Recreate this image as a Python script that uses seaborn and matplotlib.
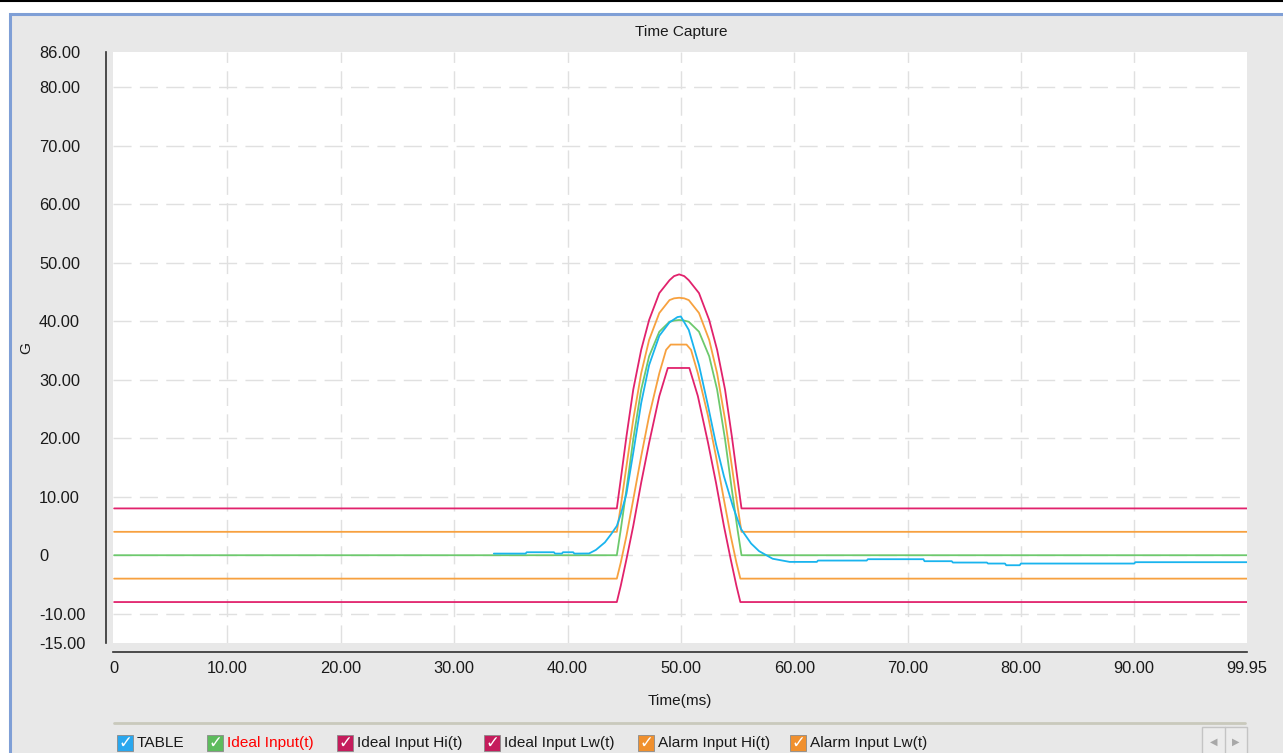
import matplotlib
import matplotlib.pyplot as plt
import matplotlib.patches as mpatches
import matplotlib.lines as mlines
import seaborn as sns

matplotlib.use("Agg")
sns.set_theme(style="white")
plt.rcParams["font.family"] = ["Liberation Sans", "DejaVu Sans"]

# ---- data read off the capture ----
# ideal pulse and the hi envelopes share one time base
pulse_t = [0, 44.35, 44.7, 45.2, 45.8, 46.5, 47.2, 48.1, 49.0, 49.4, 49.85, 50.3, 50.7, 51.6, 52.5, 53.2, 53.9, 54.5, 55.0, 55.35, 99.95]
ideal_input = [0, 0, 4.4, 11.2, 19.8, 28.3, 34.0, 38.2, 39.9, 40.1, 40.2, 40.1, 39.9, 38.2, 34.0, 28.3, 19.8, 11.2, 4.4, 0, 0]
ideal_hi = [8, 8, 13.0, 20.3, 28.3, 35.1, 40.2, 44.8, 47.0, 47.7, 48.0, 47.7, 47.0, 44.8, 40.2, 35.1, 28.3, 20.3, 13.0, 8, 8]
alarm_hi = [4, 4, 8.4, 15.2, 23.2, 31.1, 36.8, 41.4, 43.6, 43.9, 44.0, 43.9, 43.6, 41.4, 36.8, 31.1, 23.2, 15.2, 8.4, 4, 4]

ideal_lw_t = [0, 44.35, 44.7, 45.2, 45.8, 46.5, 47.2, 48.1, 48.85, 50.75, 51.5, 52.4, 53.1, 53.8, 54.4, 54.9, 55.25, 99.95]
ideal_lw = [-8, -8, -5.2, -0.7, 5.0, 12.4, 19.2, 27.2, 32, 32, 27.2, 19.2, 12.4, 5.0, -0.7, -5.2, -8, -8]

alarm_lw_t = [0, 44.35, 44.7, 45.2, 45.8, 46.5, 47.2, 48.1, 48.7, 49.1, 50.5, 50.9, 51.5, 52.4, 53.1, 53.8, 54.4, 54.9, 55.25, 99.95]
alarm_lw = [-4, -4, -1.25, 3.3, 9.5, 16.9, 23.8, 31.1, 35.1, 36, 36, 35.1, 31.1, 23.8, 16.9, 9.5, 3.3, -1.25, -4, -4]

table_t = [33.5, 36.3, 36.4, 38.8, 38.9, 39.5, 39.6, 40.5, 40.6, 41.9, 42.5, 43.3, 43.85, 44.35,
           44.7, 45.2, 45.8, 46.5, 47.2, 48.1, 49.0, 49.7, 50.0, 50.7, 51.6, 52.4, 53.1, 53.8,
           54.6, 55.3, 56.2, 56.9, 58.1, 59.6, 62.0, 62.1, 66.4, 66.5, 71.4, 71.5, 73.9, 74.0,
           77.0, 77.1, 78.6, 78.7, 79.9, 80.0, 90.0, 90.1, 99.95]
table_v = [0.28, 0.28, 0.51, 0.51, 0.28, 0.28, 0.51, 0.51, 0.28, 0.3, 0.9, 2.2, 3.6, 5.0,
           7.0, 10.5, 17.5, 26.0, 32.5, 37.5, 39.8, 40.7, 40.8, 38.5, 32.5, 25.5, 19.0, 13.5,
           8.3, 4.5, 2.0, 0.7, -0.6, -1.14, -1.14, -0.91, -0.91, -0.68, -0.68, -1.02, -1.02, -1.25,
           -1.25, -1.42, -1.42, -1.71, -1.71, -1.42, -1.42, -1.19, -1.19]

x_ticks = [0, 10, 20, 30, 40, 50, 60, 70, 80, 90, 99.95]
x_tick_labels = ["0", "10.00", "20.00", "30.00", "40.00", "50.00", "60.00", "70.00", "80.00", "90.00", "99.95"]
y_ticks = [-15, -10, 0, 10, 20, 30, 40, 50, 60, 70, 80, 86]
y_tick_labels = ["-15.00", "-10.00", "0", "10.00", "20.00", "30.00", "40.00", "50.00", "60.00", "70.00", "80.00", "86.00"]

legend_names = ["TABLE", "Ideal Input(t)", "Ideal Input Hi(t)", "Ideal Input Lw(t)", "Alarm Input Hi(t)", "Alarm Input Lw(t)"]

CYAN, GREEN, CRIMSON, ORANGE = "#19b4ee", "#6dc96d", "#e1226c", "#f7a13f"
BOX_COLORS = ["#2aa7ee", "#5dbb5d", "#c51c5c", "#c51c5c", "#f0902e", "#f0902e"]
TEXT_COLORS = ["#1a1a1a", "#ff0000", "#1a1a1a", "#1a1a1a", "#1a1a1a", "#1a1a1a"]
FS = 11.1
TICK_FS = 11.8

W, H = 1283, 753


def fx(x):
    return x / W


def fy(y):
    return 1 - y / H


fig = plt.figure(figsize=(W / 100, H / 100), dpi=100, facecolor="white")

# window frame
fig.patches.append(mpatches.Rectangle((fx(9.5), fy(H + 20)), 1.2, fy(13.5) - fy(H + 20), transform=fig.transFigure,
                                      facecolor="#e8e8e8", edgecolor="#7f9fd6", linewidth=2.2, zorder=-5))
fig.lines.append(mlines.Line2D([0, 1], [fy(0.8), fy(0.8)], transform=fig.transFigure, color="black", linewidth=1.5))
fig.patches.append(mpatches.Rectangle((fx(205), fy(2)), fx(21), fy(0) - fy(2), transform=fig.transFigure,
                                      facecolor="#1e90ff", edgecolor="none"))

ax = fig.add_axes([fx(113), fy(643), (1247 - 113) / W, (643 - 52) / H])
ax.set_facecolor("white")

sns.lineplot(x=ideal_lw_t, y=ideal_lw, color=CRIMSON, linewidth=1.3, ax=ax)
sns.lineplot(x=pulse_t, y=ideal_hi, color=CRIMSON, linewidth=1.3, ax=ax)
sns.lineplot(x=alarm_lw_t, y=alarm_lw, color=ORANGE, linewidth=1.3, ax=ax)
sns.lineplot(x=pulse_t, y=alarm_hi, color=ORANGE, linewidth=1.3, ax=ax)
sns.lineplot(x=pulse_t, y=ideal_input, color=GREEN, linewidth=1.3, ax=ax)
sns.lineplot(x=table_t, y=table_v, color=CYAN, linewidth=1.3, ax=ax)

ax.set_xlim(-0.1, 99.95)
ax.set_ylim(-15, 86)
ax.set_xlabel("")
ax.set_ylabel("")

ax.set_xticks(x_ticks)
ax.set_xticklabels(x_tick_labels)
ax.set_yticks(y_ticks)
ax.set_yticklabels(y_tick_labels)

# dashed grid on the round tens only (minor ticks sit on the major ones)
ax.xaxis.remove_overlapping_locs = False
ax.yaxis.remove_overlapping_locs = False
ax.set_xticks(x_ticks[1:-1], minor=True)
ax.set_yticks(y_ticks[1:-1], minor=True)
ax.grid(which="major", visible=False)
ax.grid(which="minor", visible=True, color="#e0e0e0", linestyle=(0, (13, 6)), linewidth=1.0)
ax.tick_params(which="minor", length=0)

sns.despine(ax=ax, offset={"left": 5.4, "bottom": 6.5})
for side in ["left", "bottom"]:
    ax.spines[side].set_color("#303030")
    ax.spines[side].set_linewidth(1.2)

ax.tick_params(axis="x", which="major", direction="out", length=5, width=1.1, color="#303030",
               pad=1.5, labelsize=TICK_FS, labelcolor="#1a1a1a")
ax.tick_params(axis="y", which="major", direction="out", length=3, width=1.1, color="#303030",
               pad=44.9, labelsize=TICK_FS, labelcolor="#1a1a1a")
for label in ax.get_yticklabels():
    label.set_horizontalalignment("left")
for tick, val in zip(ax.yaxis.get_major_ticks(), y_ticks):
    if val in (86, -15):
        tick.tick1line.set_visible(False)

fig.text(fx(681), fy(32), "Time Capture", ha="center", va="center", fontsize=FS, color="#1a1a1a")
fig.text(fx(680), fy(701), "Time(ms)", ha="center", va="center", fontsize=FS, color="#1a1a1a")
fig.text(fx(26), fy(348), "G", ha="center", va="center", rotation=90, fontsize=FS, color="#1a1a1a")

# legend strip with check boxes
fig.lines.append(mlines.Line2D([fx(114), fx(1245)], [fy(722.5), fy(722.5)], transform=fig.transFigure,
                               color="#c9c9bc", linewidth=2))
box_x = [117, 207, 337, 484, 638, 790]
for bx, name, bc, tc in zip(box_x, legend_names, BOX_COLORS, TEXT_COLORS):
    fig.patches.append(mpatches.Rectangle((fx(bx), fy(751)), fx(16), fy(735) - fy(751), transform=fig.transFigure,
                                          facecolor=bc, edgecolor="#8a8a8a", linewidth=0.6))
    fig.text(fx(bx + 8), fy(742.5), "\u2713", ha="center", va="center", color="white", fontsize=12,
             fontweight="bold", family="DejaVu Sans")
    fig.text(fx(bx + 20), fy(743), name, ha="left", va="center", fontsize=FS, color=tc)

# scroll arrows box
fig.patches.append(mpatches.Rectangle((fx(1202), fy(760)), fx(45), fy(727) - fy(760), transform=fig.transFigure,
                                      facecolor="#ececec", edgecolor="#c4c4c4", linewidth=1))
fig.lines.append(mlines.Line2D([fx(1225), fx(1225)], [fy(727), fy(760)], transform=fig.transFigure,
                               color="#c4c4c4", linewidth=1))
fig.text(fx(1213.5), fy(742), "\u25c0", ha="center", va="center", color="#a8a8a8", fontsize=7, family="DejaVu Sans")
fig.text(fx(1236), fy(742), "\u25b6", ha="center", va="center", color="#a8a8a8", fontsize=7, family="DejaVu Sans")

plt.savefig("out.png", dpi=100)
plt.close()
